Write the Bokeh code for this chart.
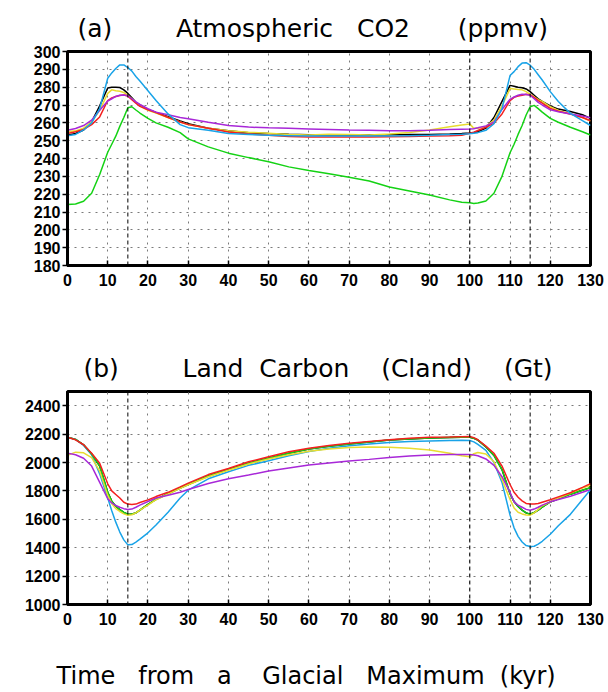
from bokeh.plotting import figure
from bokeh.models import Range1d, FixedTicker, Span
from bokeh.layouts import column
from bokeh.embed import file_html
from bokeh.resources import INLINE

# ---------------- data ----------------
TIME = [0, 2, 4, 6, 8, 10, 11, 12, 13, 14, 15, 16, 17, 18, 20, 22, 25, 28, 30,
        35, 40, 45, 50, 55, 60, 65, 70, 75, 80, 85, 90, 95, 98, 100, 101, 102,
        104, 106, 108, 110, 111, 112, 113, 114, 115, 116, 117, 118, 120, 122,
        125, 128, 130]

X_TICKS = list(range(0, 131, 10))
CO2_TICKS = list(range(180, 301, 10))
CLAND_TICKS = list(range(1000, 2401, 200))
EVENTS = [15, 100, 115]

# (a) Atmospheric CO2 (ppmv)
CO2_BLACK = [253, 254, 256, 260.5, 269.5, 279.5, 280, 280, 279.8, 278.5, 276.5, 274, 271.5, 270, 267.5, 265.8, 263.5, 261, 259.5,
             257, 255.5, 254.5, 254, 253.6, 253.3, 253.2, 253.2, 253.2, 253.3, 253.4, 253.5, 253.8, 254, 254.3, 254.6, 255,
             257, 263, 272, 281, 280.5, 280, 279.7, 279, 277.5, 275.5, 273.5, 272, 269.5, 267.7,
             266.3, 264.5, 262.5]
CO2_YELLOW = [255, 255.5, 257, 260.5, 267, 276.5, 278.5, 278, 277.7, 277, 275.5, 273.5, 271.5, 269.5, 267, 265.5, 263, 260.5, 259,
              257, 255.5, 254.7, 254.2, 253.5, 253.2, 253.6, 253.4, 253.2, 253.8, 254.6, 256, 257.8, 258.8, 259.3, 256.9, 256.9,
              258, 261.5, 269.5, 279.2, 279, 278.7, 278.5, 277.5, 276, 274.5, 273, 272, 269, 267,
              265, 263, 261]
CO2_RED = [254, 255, 256.3, 259, 263.3, 272.5, 274, 274.8, 275.3, 275.6, 275, 273, 271, 269.2, 267.3, 265.8, 263, 260.5, 259,
           257, 254.8, 253.8, 253, 252.3, 252, 252, 252, 252, 252.2, 252.4, 252.6, 252.8, 253, 254.2, 254.8, 255.7,
           257.5, 259.7, 265, 272.5, 274.3, 275, 275.5, 276, 275.6, 274.3, 272.5, 271, 268.1, 266.5,
           265, 263, 261.2]
CO2_PURPLE = [255.9, 256.8, 258.5, 261.5, 267, 272.2, 273.5, 274.8, 275.5, 275.6, 275.2, 273.5, 271.8, 270.3, 267.9, 266, 264.5, 263, 262.3,
              260.3, 258.5, 257.6, 257.2, 256.9, 256.6, 256.3, 256, 255.8, 255.6, 255.6, 255.8, 256.2, 256.4, 256.5, 256.7, 257.2,
              258.3, 260.5, 267.5, 273.2, 274.5, 275.5, 276, 275.9, 275.5, 273.5, 271.5, 270, 267.3, 266.2,
              265, 263.8, 262.9]
CO2_GREEN = [214.2, 214.5, 216, 220.5, 231, 243.5, 248, 252.5, 258, 263, 268.5, 269, 267.2, 265.5, 262.5, 260, 257.5, 254.5, 251,
             246.5, 243, 240.5, 238.2, 235.3, 233.3, 231.4, 229.5, 227.4, 224, 221.8, 219.5, 216.8, 215.5, 215.2, 214.8, 215,
             216.2, 220.5, 230, 243.2, 248, 253.5, 258.5, 264.4, 269, 269.8, 268, 266, 262.5, 260.3,
             257.5, 255, 253.2]
CO2_BLUE = [252.8, 253.5, 256, 260, 268, 285, 288, 290.5, 292.5, 292.5, 291, 289, 286, 283.5, 278, 272.5, 265, 259, 257.3,
            255.8, 254, 253.5, 253, 252.8, 252.6, 252.6, 252.6, 252.6, 252.6, 252.8, 253, 253.4, 253.6, 253.9, 254.2, 254.5,
            255.8, 259.5, 268, 286.5, 288.7, 291.5, 293.5, 293.7, 292.3, 290, 287, 284, 277.5, 272,
            265.3, 261.2, 258.5]

# (b) Land Carbon (Cland) (Gt)
CL_BLACK = [2178, 2163, 2125, 2060, 1975, 1790, 1728, 1692, 1668, 1648, 1636, 1638, 1645, 1665, 1705, 1740, 1780, 1820, 1845,
            1905, 1950, 1995, 2030, 2065, 2095, 2115, 2130, 2145, 2158, 2166, 2172, 2176, 2178, 2178, 2170, 2158,
            2110, 2050, 1950, 1780, 1725, 1690, 1665, 1645, 1636, 1648, 1665, 1685, 1722, 1745,
            1777, 1805, 1823]
CL_BLUE = [2178, 2163, 2120, 2055, 1920, 1750, 1660, 1580, 1510, 1455, 1420, 1422, 1440, 1460, 1505, 1560, 1650, 1750, 1805,
           1885, 1935, 1980, 2012, 2048, 2078, 2100, 2118, 2130, 2140, 2148, 2152, 2155, 2156, 2155, 2145, 2128,
           2085, 2000, 1860, 1630, 1540, 1480, 1440, 1415, 1408, 1410, 1425, 1445, 1495, 1555,
           1635, 1740, 1809]
CL_GREEN = [2178, 2163, 2125, 2060, 1975, 1790, 1728, 1692, 1668, 1648, 1636, 1638, 1645, 1665, 1705, 1740, 1780, 1820, 1845,
            1905, 1950, 1995, 2030, 2065, 2095, 2115, 2130, 2145, 2158, 2166, 2172, 2176, 2178, 2178, 2170, 2158,
            2110, 2050, 1950, 1780, 1725, 1690, 1665, 1645, 1636, 1648, 1665, 1685, 1722, 1745,
            1777, 1805, 1823]
CL_YELLOW = [2050, 2073, 2068, 2035, 1940, 1770, 1710, 1675, 1655, 1638, 1629, 1632, 1645, 1665, 1700, 1738, 1778, 1818, 1843,
             1900, 1945, 1990, 2025, 2055, 2080, 2095, 2105, 2110, 2108, 2100, 2088, 2065, 2048, 2040, 2062, 2070,
             2060, 2005, 1880, 1740, 1680, 1650, 1638, 1630, 1629, 1645, 1670, 1695, 1723, 1750,
             1785, 1820, 1840]
CL_PURPLE = [2066, 2055, 2030, 1975, 1860, 1745, 1715, 1697, 1685, 1675, 1669, 1672, 1685, 1700, 1725, 1750, 1770, 1790, 1810,
             1852, 1885, 1912, 1940, 1962, 1982, 1997, 2010, 2022, 2035, 2045, 2052, 2056, 2057, 2057, 2053, 2048,
             2025, 1980, 1900, 1790, 1723, 1700, 1685, 1670, 1664, 1672, 1685, 1700, 1723, 1740,
             1762, 1790, 1809]
CL_RED = [2178, 2160, 2125, 2065, 1995, 1850, 1800, 1775, 1750, 1720, 1707, 1705, 1707, 1718, 1737, 1760, 1790, 1828, 1855,
          1915, 1958, 2005, 2040, 2075, 2100, 2120, 2135, 2148, 2160, 2170, 2177, 2180, 2182, 2183, 2175, 2160,
          2115, 2065, 1975, 1845, 1790, 1755, 1730, 1712, 1707, 1707, 1711, 1720, 1738, 1758,
          1787, 1825, 1851]

COL = {"black": "#000000", "yellow": "#e8dc30", "red": "#f41e1e",
       "purple": "#a828d8", "green": "#14d214", "blue": "#19a3e8"}

TICK_FONT = "Liberation Sans"
TITLE_FONT = "DejaVu Sans"
NB = "\u00a0"

TITLE_A = "(a)" + NB * 8 + "Atmospheric" + NB * 3 + "CO2" + NB * 6 + "(ppmv)"
TITLE_B = "(b)" + NB * 8 + "Land" + NB * 2 + "Carbon" + NB * 4 + "(Cland)" + NB * 4 + "(Gt)"
XLABEL = ("Time" + NB * 3 + "from" + NB * 3 + "a" + NB * 4 + "Glacial" + NB * 3 +
          "Maximum" + NB * 2 + "(kyr)" + NB * 6)


def make_panel(height, top, bottom, y_lo, y_hi, y_ticks, title, title_offset):
    p = figure(width=608, height=height, output_backend="svg", toolbar_location=None,
               x_range=Range1d(0, 130), y_range=Range1d(y_lo, y_hi),
               min_border_left=67, min_border_right=18,
               min_border_top=top, min_border_bottom=bottom)
    p.background_fill_color = "white"
    p.border_fill_color = "white"
    p.outline_line_color = "black"
    p.outline_line_width = 3
    p.outline_line_alpha = 1.0
    p.title.text = title
    p.title.align = "left"
    p.title.offset = title_offset
    p.title.text_font = TITLE_FONT
    p.title.text_font_size = "25px"
    p.title.text_font_style = "normal"
    p.title.text_color = "black"
    p.title.standoff = 17
    for ax in (p.xaxis[0], p.yaxis[0]):
        ax.axis_line_width = 3
        ax.axis_line_color = "black"
        ax.major_tick_line_color = "black"
        ax.major_tick_line_width = 1.5
        ax.minor_tick_line_color = None
        ax.major_label_text_font = TICK_FONT
        ax.major_label_text_font_style = "bold"
        ax.major_label_text_font_size = "16px"
        ax.major_label_text_color = "black"
    p.xaxis.ticker = FixedTicker(ticks=X_TICKS)
    p.yaxis.ticker = FixedTicker(ticks=y_ticks)
    p.xaxis.major_tick_in = 5
    p.xaxis.major_tick_out = 0
    p.xaxis.major_label_standoff = 8
    p.yaxis.major_tick_in = 0
    p.yaxis.major_tick_out = 5
    p.yaxis.major_label_standoff = 2
    for g in (p.xgrid[0], p.ygrid[0]):
        g.grid_line_color = "#7a7a7a"
        g.grid_line_dash = "2 5"
        g.grid_line_width = 1
    p.xgrid.ticker = FixedTicker(ticks=X_TICKS)
    p.ygrid.ticker = FixedTicker(ticks=y_ticks)
    for ev in EVENTS:
        p.add_layout(Span(location=ev, dimension="height", line_color="black",
                          line_dash="4 3", line_width=1))
    return p


# ---------------- panel (a) ----------------
p1 = make_panel(300, 51, 35, 180, 300, CO2_TICKS, TITLE_A, 10)
for name, ys in (("green", CO2_GREEN), ("black", CO2_BLACK), ("yellow", CO2_YELLOW),
                 ("red", CO2_RED), ("purple", CO2_PURPLE), ("blue", CO2_BLUE)):
    p1.line(TIME, ys, line_color=COL[name], line_width=1.5)

# ---------------- panel (b) ----------------
p2 = make_panel(392, 91, 87, 1000, 2500, CLAND_TICKS, TITLE_B, 16)
for name, ys in (("black", CL_BLACK), ("blue", CL_BLUE), ("green", CL_GREEN),
                 ("yellow", CL_YELLOW), ("purple", CL_PURPLE), ("red", CL_RED)):
    p2.line(TIME, ys, line_color=COL[name], line_width=1.5)
p2.xaxis.axis_label = XLABEL
p2.xaxis.axis_label_text_font = TITLE_FONT
p2.xaxis.axis_label_text_font_size = "24px"
p2.xaxis.axis_label_text_font_style = "normal"
p2.xaxis.axis_label_text_color = "black"
p2.xaxis.axis_label_standoff = 34

layout = column(p1, p2)
open("out.html", "w").write(file_html(layout, INLINE))
